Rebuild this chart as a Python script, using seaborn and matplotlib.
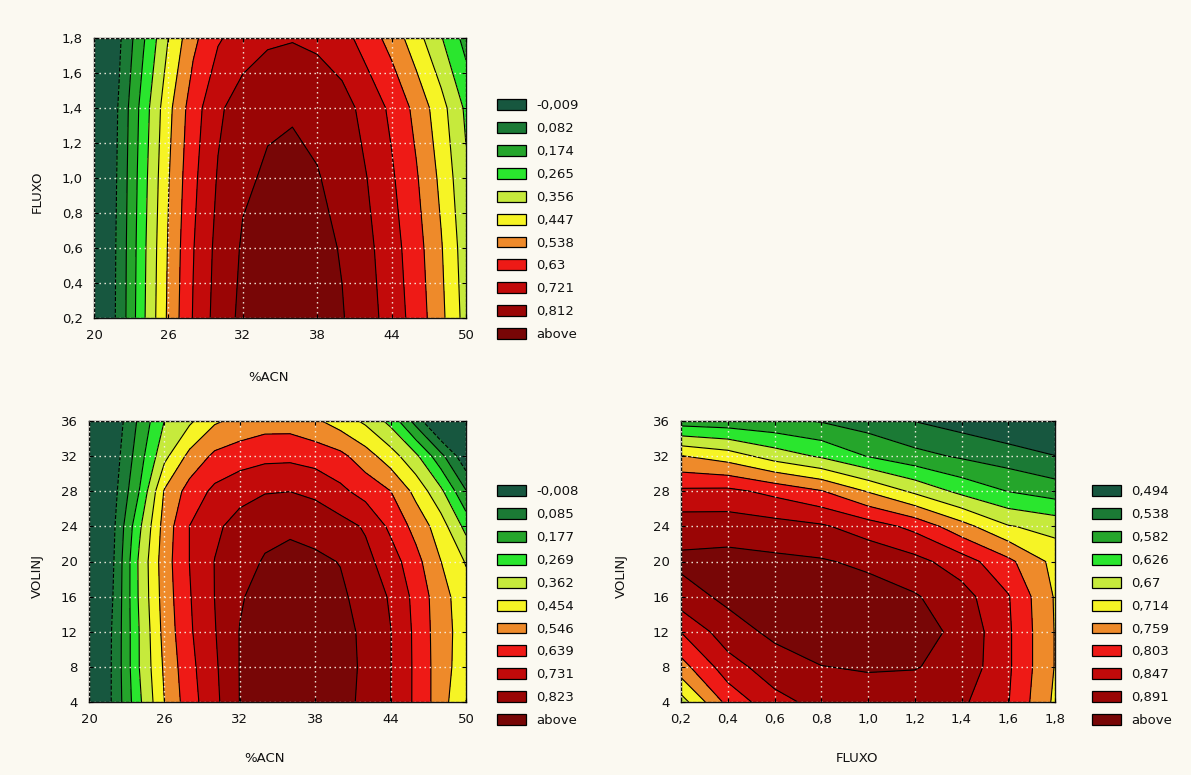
import numpy as np
import matplotlib
matplotlib.use("Agg")
import matplotlib.pyplot as plt
import seaborn as sns
from matplotlib.patches import Patch
from matplotlib.ticker import FuncFormatter, FixedLocator

# ---------------- data ----------------
acn = [20, 22, 24, 26, 28, 30, 32, 34, 36, 38, 40, 42, 44, 46, 48, 50]

# Panel 1: response over %ACN (columns) x FLUXO (rows)
fluxo_p1 = [0.2, 0.6, 1.0, 1.4, 1.8]
resp_acn_fluxo = [
    [-0.150, 0.014, 0.252, 0.465, 0.636, 0.760, 0.835, 0.855, 0.860, 0.850, 0.818, 0.758, 0.682, 0.591, 0.470, 0.320],
    [-0.153, 0.011, 0.245, 0.456, 0.626, 0.749, 0.822, 0.843, 0.848, 0.838, 0.806, 0.744, 0.668, 0.575, 0.454, 0.306],
    [-0.159, 0.005, 0.233, 0.441, 0.609, 0.729, 0.799, 0.822, 0.828, 0.817, 0.784, 0.722, 0.643, 0.547, 0.426, 0.280],
    [-0.166, -0.002, 0.217, 0.421, 0.588, 0.704, 0.769, 0.800, 0.806, 0.790, 0.757, 0.690, 0.611, 0.511, 0.390, 0.248],
    [-0.190, -0.027, 0.164, 0.357, 0.515, 0.620, 0.670, 0.705, 0.715, 0.700, 0.665, 0.588, 0.504, 0.391, 0.271, 0.140],
]

# Panel 2: response over %ACN (columns) x VOLINJ (rows)
volinj = [4, 8, 12, 16, 20, 24, 28, 32, 36]
resp_acn_volinj = [
    [-0.17, 0.013, 0.251, 0.454, 0.599, 0.707, 0.825, 0.855, 0.870, 0.865, 0.845, 0.808, 0.731, 0.622, 0.496, 0.360],
    [-0.17, 0.013, 0.269, 0.469, 0.612, 0.716, 0.826, 0.860, 0.885, 0.878, 0.855, 0.808, 0.733, 0.622, 0.496, 0.400],
    [-0.17, 0.011, 0.270, 0.485, 0.626, 0.726, 0.826, 0.862, 0.885, 0.878, 0.852, 0.805, 0.733, 0.620, 0.493, 0.410],
    [-0.18, 0.001, 0.282, 0.496, 0.633, 0.732, 0.815, 0.855, 0.875, 0.865, 0.838, 0.790, 0.721, 0.612, 0.489, 0.400],
    [-0.20, -0.006, 0.285, 0.504, 0.640, 0.733, 0.792, 0.830, 0.845, 0.838, 0.820, 0.757, 0.685, 0.577, 0.455, 0.355],
    [-0.21, -0.017, 0.251, 0.491, 0.640, 0.713, 0.765, 0.800, 0.810, 0.795, 0.765, 0.721, 0.619, 0.515, 0.406, 0.240],
    [-0.22, -0.035, 0.178, 0.462, 0.583, 0.660, 0.700, 0.725, 0.730, 0.710, 0.660, 0.604, 0.547, 0.428, 0.290, 0.090],
    [-0.23, -0.053, 0.136, 0.337, 0.480, 0.565, 0.595, 0.615, 0.618, 0.600, 0.570, 0.495, 0.404, 0.290, 0.113, -0.080],
    [-0.25, -0.071, 0.103, 0.270, 0.345, 0.441, 0.480, 0.505, 0.505, 0.470, 0.411, 0.344, 0.241, 0.050, -0.160, -0.300],
]

# Panel 3: response over FLUXO (columns) x VOLINJ (rows)
fluxo_p3 = [0.2, 0.4, 0.6, 0.8, 1.0, 1.2, 1.4, 1.6, 1.8]
resp_fluxo_volinj = [
    [0.650, 0.773, 0.832, 0.862, 0.870, 0.870, 0.855, 0.805, 0.705],
    [0.742, 0.827, 0.872, 0.890, 0.895, 0.893, 0.878, 0.810, 0.712],
    [0.804, 0.873, 0.900, 0.915, 0.915, 0.905, 0.882, 0.810, 0.712],
    [0.874, 0.900, 0.910, 0.915, 0.910, 0.895, 0.865, 0.806, 0.710],
    [0.900, 0.905, 0.900, 0.895, 0.882, 0.861, 0.824, 0.770, 0.700],
    [0.872, 0.871, 0.864, 0.853, 0.825, 0.791, 0.731, 0.673, 0.655],
    [0.811, 0.814, 0.791, 0.762, 0.711, 0.661, 0.614, 0.581, 0.561],
    [0.716, 0.693, 0.650, 0.620, 0.580, 0.552, 0.532, 0.515, 0.495],
    [0.560, 0.555, 0.548, 0.535, 0.516, 0.493, 0.475, 0.455, 0.440],
]

levels_p1 = [-0.009, 0.082, 0.174, 0.265, 0.356, 0.447, 0.538, 0.63, 0.721, 0.812]
levels_p2 = [-0.008, 0.085, 0.177, 0.269, 0.362, 0.454, 0.546, 0.639, 0.731, 0.823]
levels_p3 = [0.494, 0.538, 0.582, 0.626, 0.67, 0.714, 0.759, 0.803, 0.847, 0.891]

band_colors = ['#17573f', '#1b7a35', '#25a52b', '#2ae62e', '#c6ea3c', '#f6f425',
               '#ee8a2a', '#ee1a16', '#c20a0a', '#9a0505', '#780606']

acn_ticks = [20, 26, 32, 38, 44, 50]
fluxo_ticks = [0.2, 0.4, 0.6, 0.8, 1.0, 1.2, 1.4, 1.6, 1.8]
volinj_ticks = [4, 8, 12, 16, 20, 24, 28, 32, 36]

# ---------------- style ----------------
sns.set_theme(style="white")
BG = '#fbf9f1'
plt.rcParams['font.family'] = ['DejaVu Sans']
plt.rcParams['figure.facecolor'] = BG

W, H = 1191, 775
fig = plt.figure(figsize=(W / 100, H / 100), dpi=100)
fig.patch.set_facecolor(BG)


def ax_at(left, top, right, bottom):
    return fig.add_axes([left / W, 1 - bottom / H, (right - left) / W, (bottom - top) / H])


comma1 = FuncFormatter(lambda v, p: f"{v:.1f}".replace('.', ','))
intfmt = FuncFormatter(lambda v, p: f"{int(round(v))}")


def draw_panel(ax, xs, ys, z, levels, xticks, yticks, xfmt, yfmt, xlabel, ylabel,
               xlab_pos, ylab_pos):
    z = np.asarray(z, dtype=float)
    full = [-10.0] + list(levels) + [10.0]
    ax.contourf(xs, ys, z, levels=full, colors=band_colors, zorder=1)
    ax.contour(xs, ys, z, levels=levels, colors='black', linewidths=0.8, zorder=2)
    ax.set_xlim(xs[0], xs[-1])
    ax.set_ylim(ys[0], ys[-1])
    ax.xaxis.set_major_locator(FixedLocator(xticks))
    ax.yaxis.set_major_locator(FixedLocator(yticks))
    ax.xaxis.set_major_formatter(xfmt)
    ax.yaxis.set_major_formatter(yfmt)
    ax.set_axisbelow(False)
    ax.grid(True, color='#f6f2e4', linestyle=(0, (1, 2.6)), linewidth=1.0)
    ax.tick_params(axis='both', which='major', direction='in', length=3, width=0.8,
                   color='black', labelsize=9.5, labelcolor='#111111',
                   top=True, right=True, left=True, bottom=True)
    ax.tick_params(axis='x', pad=8)
    ax.tick_params(axis='y', pad=8)
    for s in ax.spines.values():
        s.set_color('#111111')
        s.set_linewidth(1.0)
        s.set_visible(True)
    ax.set_xlabel(xlabel, fontsize=9.5, color='#111111')
    ax.set_ylabel(ylabel, fontsize=9.5, color='#111111')
    ax.xaxis.set_label_coords(*xlab_pos)
    ax.yaxis.set_label_coords(*ylab_pos)


def add_legend(levels, x_px, y_px):
    labels = [str(v).replace('.', ',') for v in levels] + ['above']
    handles = [Patch(facecolor=c, edgecolor='black', linewidth=0.9) for c in band_colors]
    leg = fig.legend(handles, labels, loc='upper left',
                     bbox_to_anchor=(x_px / W, 1 - y_px / H), bbox_transform=fig.transFigure,
                     frameon=False, fontsize=9.5, handlelength=2.2, handleheight=0.9,
                     handletextpad=0.75, labelspacing=0.75, borderpad=0, borderaxespad=0)
    for t in leg.get_texts():
        t.set_color('#111111')
    return leg


ax1 = ax_at(94, 38, 466, 318)
draw_panel(ax1, acn, fluxo_p1, resp_acn_fluxo, levels_p1, acn_ticks, fluxo_ticks,
           intfmt, comma1, '%ACN', 'FLUXO', (0.47, -0.19), (-0.134, 0.45))
add_legend(levels_p1, 497, 99)

ax2 = ax_at(89, 421, 466, 702)
draw_panel(ax2, acn, volinj, resp_acn_volinj, levels_p2, acn_ticks, volinj_ticks,
           intfmt, intfmt, '%ACN', 'VOLINJ', (0.465, -0.178), (-0.119, 0.45))
add_legend(levels_p2, 497, 485)

ax3 = ax_at(681, 421, 1055, 702)
draw_panel(ax3, fluxo_p3, volinj, resp_fluxo_volinj, levels_p3, fluxo_ticks, volinj_ticks,
           comma1, intfmt, 'FLUXO', 'VOLINJ', (0.47, -0.178), (-0.142, 0.45))
add_legend(levels_p3, 1092, 485)

fig.savefig('out.png', dpi=100, facecolor=BG)
